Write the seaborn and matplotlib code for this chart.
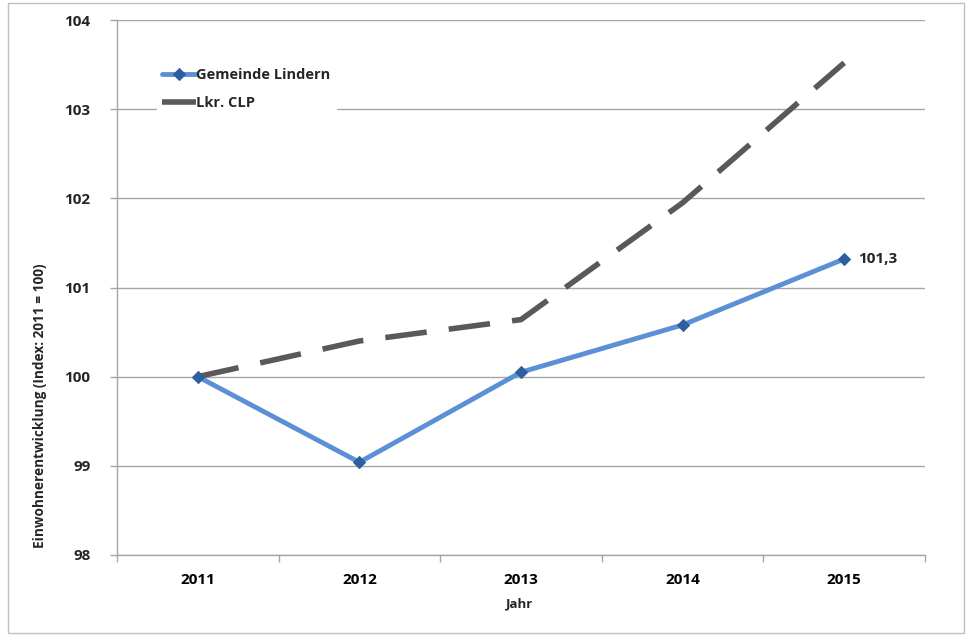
import matplotlib
matplotlib.use("Agg")
import matplotlib.pyplot as plt
import seaborn as sns
import pandas as pd
from matplotlib.patches import Rectangle
from matplotlib.ticker import FixedLocator

years = ["2011", "2012", "2013", "2014", "2015"]
lindern = [100.0, 99.04, 100.05, 100.58, 101.32]
clp = [100.0, 100.40, 100.64, 101.95, 103.52]
series_names = ["Gemeinde Lindern", "Lkr. CLP"]
yticks = [98, 99, 100, 101, 102, 103, 104]

sns.set_theme(style="white")
plt.rcParams['font.family'] = ['Open Sans', 'DejaVu Sans']

df = pd.DataFrame({"Jahr": list(range(len(years))) * 2,
                   "Wert": lindern + clp,
                   "Serie": [series_names[0]] * len(years) + [series_names[1]] * len(years)})

fig = plt.figure(figsize=(9.7, 6.35), dpi=100)
ax = fig.add_axes([117/970, 80/635, 808/970, 535/635])

d1 = df[df["Serie"] == series_names[0]]
d2 = df[df["Serie"] == series_names[1]]
sns.lineplot(data=d1, x="Jahr", y="Wert", ax=ax, color="#5B8FD6", lw=3.5,
             marker="D", markersize=6, markerfacecolor="#2E5E9E", markeredgecolor="#2E5E9E",
             label=series_names[0], zorder=4)
sns.lineplot(data=d2, x="Jahr", y="Wert", ax=ax, color="#595959", lw=4,
             label=series_names[1], zorder=3)
ax.lines[1].set_dashes([7.5, 4])
ax.lines[1].set_dash_capstyle("butt")

ax.set_xlim(-0.5, len(years) - 0.5)
ax.set_ylim(98, 104)
ax.set_yticks(yticks)
ax.set_yticklabels([str(t) for t in yticks], fontsize=11, fontweight="bold")
ax.set_xticks(range(len(years)))
ax.set_xticklabels(years, fontsize=11, fontweight="bold")
ax.xaxis.set_minor_locator(FixedLocator([i - 0.5 for i in range(len(years) + 1)]))
ax.tick_params(axis="x", which="major", length=0, pad=13, colors="black")
ax.tick_params(axis="x", which="minor", length=5, width=1, color="#A6A6A6", direction="out", bottom=True)
ax.tick_params(axis="y", which="major", length=5, width=1, color="#A6A6A6", direction="out", left=True, pad=14)

ax.grid(axis="y", color="#A6A6A6", lw=1)
ax.set_axisbelow(True)
for s in ["top", "right"]:
    ax.spines[s].set_visible(False)
for s in ["left", "bottom"]:
    ax.spines[s].set_color("#A6A6A6")
    ax.spines[s].set_linewidth(1)

ax.set_xlabel("Jahr", fontsize=9.5, fontweight="bold")
ax.xaxis.set_label_coords((520 - 117) / 808, (555 - 604) / 535)
ax.set_ylabel("Einwohnerentwicklung (Index: 2011 = 100)", fontsize=9.8, fontweight="bold")
ax.yaxis.set_label_coords((40 - 117) / 808, (555 - 406) / 535)
ax.yaxis.label.set_va("center")
ax.xaxis.label.set_va("center")

ax.annotate("101,3", xy=(len(years) - 1, lindern[-1]), xytext=(10, 0), textcoords="offset points",
            fontsize=11, fontweight="bold", va="center", ha="left")

leg = ax.legend(loc="upper left", bbox_to_anchor=(0.04, 0.935), frameon=True, fancybox=False,
                edgecolor="white", facecolor="white", framealpha=1, fontsize=10.5,
                handlelength=2.3, handletextpad=0.0, labelspacing=1.0, borderpad=0.4)
for t in leg.get_texts():
    t.set_fontweight("bold")

fig.patches.append(Rectangle((8/970, 2/635), 956/970, 630/635, transform=fig.transFigure,
                             fill=False, edgecolor="#BFBFBF", lw=1))

fig.savefig("out.png", dpi=100)
